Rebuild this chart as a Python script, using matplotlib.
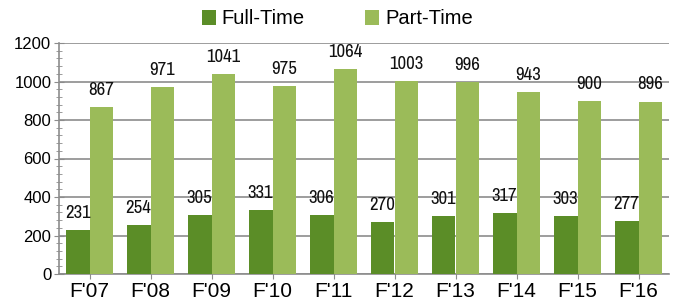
import matplotlib.pyplot as plt
import numpy as np
from matplotlib.ticker import MultipleLocator

years = ["F'07", "F'08", "F'09", "F'10", "F'11", "F'12", "F'13", "F'14", "F'15", "F'16"]
full_time = [231, 254, 305, 331, 306, 270, 301, 317, 303, 277]
part_time = [867, 971, 1041, 975, 1064, 1003, 996, 943, 900, 896]

dark = '#5B8D27'
light = '#9BBB59'
grid_c = '#8C8C8C'
narrow = ['Liberation Sans Narrow', 'Arial Narrow', 'Archivo Narrow', 'DejaVu Sans']

plt.rcParams['font.family'] = ['Liberation Sans', 'DejaVu Sans']

fig = plt.figure(figsize=(6.75, 3.03), dpi=100)
ax = fig.add_axes([59 / 675, 1 - 274 / 303, 610 / 675, 231 / 303])

x = np.arange(len(years))
w = 0.39
b1 = ax.bar(x - w / 2, full_time, w, color=dark, label='Full-Time', zorder=3)
b2 = ax.bar(x + w / 2, part_time, w, color=light, label='Part-Time', zorder=3)

for rect, v in zip(b1, full_time):
    ax.annotate(str(v), (rect.get_x() + rect.get_width() / 2, v), xytext=(0, 6.5),
                textcoords='offset points', ha='center', va='bottom',
                fontsize=13.5, family=narrow, weight='bold', color='#111111')
for rect, v in zip(b2, part_time):
    ax.annotate(str(v), (rect.get_x() + rect.get_width() / 2, v), xytext=(0, 6.5),
                textcoords='offset points', ha='center', va='bottom',
                fontsize=13.5, family=narrow, weight='bold', color='#111111')

ax.set_xlim(-0.5, len(years) - 0.5)
ax.set_ylim(0, 1200)
ax.yaxis.set_major_locator(MultipleLocator(200))
ax.yaxis.set_minor_locator(MultipleLocator(40))
ax.set_xticks(x)
ax.set_xticklabels(years, fontsize=15)
ax.tick_params(axis='y', which='major', labelsize=12, direction='inout', length=7, color=grid_c, pad=2)
ax.tick_params(axis='y', which='minor', direction='inout', length=5, color=grid_c)
ax.tick_params(axis='x', direction='inout', length=7, color=grid_c, pad=2)

ax.grid(axis='y', color=grid_c, linewidth=1.2, zorder=0)
for s in ['top', 'right']:
    ax.spines[s].set_visible(False)
for s in ['left', 'bottom']:
    ax.spines[s].set_color(grid_c)
    ax.spines[s].set_linewidth(1.2)

fig.legend(handles=[b1, b2], loc='center', bbox_to_anchor=(0.5, 1 - 19 / 303), ncol=2,
           frameon=False, fontsize=14.5, handlelength=0.7, handleheight=0.7,
           handletextpad=0.3, columnspacing=3.0)

fig.savefig('out.png', dpi=100)
